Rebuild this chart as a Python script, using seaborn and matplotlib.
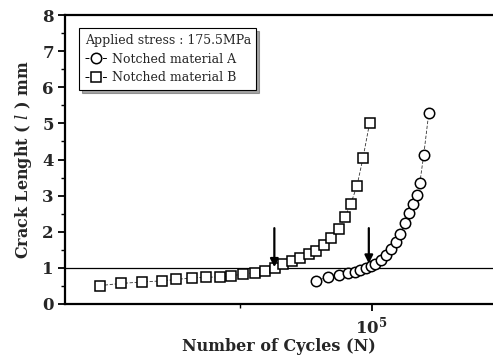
import matplotlib
matplotlib.use("Agg")
import matplotlib.pyplot as plt
import seaborn as sns
import pandas as pd
from matplotlib.lines import Line2D
from matplotlib.ticker import FixedLocator, NullFormatter

# ---- data ----
cycles_b = [24000, 26900, 30000, 33200, 35900, 38900, 42000, 45000, 47900,
            50900, 54100, 57000, 60100, 62800, 65700, 68800, 71800, 74800,
            77700, 80900, 84100, 86800, 89600, 92600, 95500, 98900]
crack_b = [0.51, 0.57, 0.61, 0.64, 0.68, 0.72, 0.74, 0.75, 0.78,
           0.83, 0.87, 0.92, 0.99, 1.11, 1.18, 1.27, 1.39, 1.48,
           1.63, 1.82, 2.08, 2.40, 2.77, 3.28, 4.03, 5.01]

cycles_a = [74800, 79500, 84200, 88300, 91400, 94200, 96900, 99500, 102000,
            104800, 107600, 110500, 113400, 116300, 119000, 121700, 124300,
            126900, 128700, 131400, 134900]
crack_a = [0.65, 0.74, 0.80, 0.85, 0.89, 0.94, 0.99, 1.05, 1.11,
           1.22, 1.36, 1.51, 1.73, 1.94, 2.24, 2.51, 2.77,
           3.02, 3.34, 4.13, 5.28]

arrow_x = [60000, 98500]
arrow_tip = [1.02, 1.12]
arrow_tail = [2.1, 2.1]

legend_title = "Applied stress : 175.5MPa"
label_a = "Notched material A"
label_b = "Notched material B"

# ---- style ----
sns.set_theme(style="ticks")
plt.rcParams["font.family"] = ["DejaVu Serif"]
plt.rcParams["mathtext.fontset"] = "dejavuserif"

fig = plt.figure(figsize=(4.93, 3.60), dpi=100)
ax = fig.add_axes([65 / 493, 56 / 360, (493 - 65) / 493, 289 / 360])

df_a = pd.DataFrame({"N": cycles_a, "l": crack_a})
df_b = pd.DataFrame({"N": cycles_b, "l": crack_b})

ax.axhline(1.0, color="black", lw=0.9, zorder=1)

common = dict(color="#333333", lw=0.6, linestyle=(0, (4, 2)), markersize=7.5,
              markerfacecolor="white", markeredgecolor="black",
              markeredgewidth=1.1, estimator=None, sort=False, ax=ax,
              legend=False, zorder=3)
sns.lineplot(data=df_b, x="N", y="l", marker="s", **common)
sns.lineplot(data=df_a, x="N", y="l", marker="o", **common)

for xa, tip, tail in zip(arrow_x, arrow_tip, arrow_tail):
    ax.annotate("", xy=(xa, tip), xytext=(xa, tail),
                arrowprops=dict(arrowstyle="-|>", color="black", lw=1.6,
                                mutation_scale=12, shrinkA=0, shrinkB=0),
                zorder=5)

ax.set_xscale("log")
ax.set_xlim(2.0e4, 1.89e5)
ax.set_ylim(0, 8)

ax.xaxis.set_major_locator(FixedLocator([1e5]))
ax.set_xticklabels(["$\\mathbf{10^5}$"])
ax.xaxis.set_minor_locator(FixedLocator([5e4]))
ax.xaxis.set_minor_formatter(NullFormatter())
ax.set_yticks(range(0, 9))
ax.yaxis.set_minor_locator(FixedLocator([i + 0.5 for i in range(8)]))

for lab in ax.get_yticklabels() + ax.get_xticklabels():
    lab.set_fontweight("bold")
    lab.set_fontsize(12)

ax.tick_params(axis="both", which="major", direction="out", length=5,
               width=1.3, color="black", pad=3)
ax.tick_params(axis="both", which="minor", direction="out", length=3,
               width=1.0, color="black")

for s in ["left", "bottom", "top"]:
    ax.spines[s].set_linewidth(1.6)
    ax.spines[s].set_color("black")
ax.spines["right"].set_visible(False)

ax.set_xlabel("Number of Cycles (N)", fontsize=11.5, fontweight="bold",
              labelpad=1)
ax.set_ylabel("Crack Lenght ( $\\mathit{l}$ ) mm", fontsize=11.5,
              fontweight="bold", labelpad=6)

handles = [
    Line2D([], [], color="black", lw=0.7, linestyle=(0, (4, 2)), marker="o",
           markersize=7.5, markerfacecolor="white", markeredgecolor="black",
           markeredgewidth=1.1),
    Line2D([], [], color="black", lw=0.7, linestyle=(0, (4, 2)), marker="s",
           markersize=7.5, markerfacecolor="white", markeredgecolor="black",
           markeredgewidth=1.1),
]
leg = ax.legend(handles, [label_a, label_b], title=legend_title,
                loc="upper left", bbox_to_anchor=(0.018, 0.975),
                fontsize=9, title_fontsize=9, frameon=True,
                fancybox=False, shadow=True, edgecolor="black",
                handlelength=1.8, handletextpad=0.4, borderpad=0.45,
                labelspacing=0.45)
leg.get_frame().set_linewidth(0.8)
leg._legend_box.align = "left"

fig.savefig("out.png", dpi=100)
